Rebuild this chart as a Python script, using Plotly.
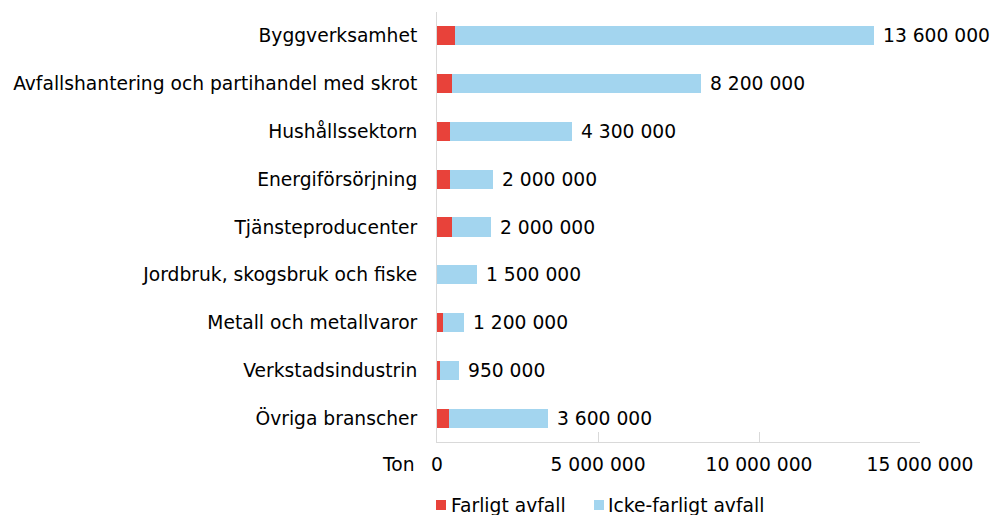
import plotly.graph_objects as go

categories = ["Byggverksamhet", "Avfallshantering och partihandel med skrot", "Hushållssektorn",
              "Energiförsörjning", "Tjänsteproducenter", "Jordbruk, skogsbruk och fiske",
              "Metall och metallvaror", "Verkstadsindustrin", "Övriga branscher"]
farligt = [550000, 460000, 390000, 390000, 480000, 0, 190000, 80000, 360000]
icke_farligt = [13020000, 7740000, 3800000, 1340000, 1200000, 1240000, 660000, 600000, 3090000]
total_labels = ["13 600 000", "8 200 000", "4 300 000", "2 000 000", "2 000 000",
                "1 500 000", "1 200 000", "950 000", "3 600 000"]
tick_vals = [0, 5000000, 10000000, 15000000]
tick_text = ["0", "5 000 000", "10 000 000", "15 000 000"]
series_names = ["Farligt avfall", "Icke-farligt avfall"]

FONT = "DejaVu Sans"
RED = "#E8423A"
BLUE = "#A3D5EF"
FS = 18.7

fig = go.Figure()
fig.add_trace(go.Bar(y=categories, x=farligt, orientation="h", name=series_names[0],
                     marker=dict(color=RED, line=dict(width=0))))
fig.add_trace(go.Bar(y=categories, x=icke_farligt, orientation="h", name=series_names[1],
                     marker=dict(color=BLUE, line=dict(width=0))))

for c, f, i, t in zip(categories, farligt, icke_farligt, total_labels):
    fig.add_annotation(x=f + i, y=c, text=t, showarrow=False, xanchor="left", xshift=7,
                       font=dict(family=FONT, size=FS, color="#000000"))

fig.add_annotation(x=0, y=0, xref="paper", yref="paper", text="Ton", showarrow=False,
                   xanchor="right", yanchor="middle", xshift=-20, yshift=-22,
                   font=dict(family=FONT, size=FS, color="#000000"))

# legend drawn manually (tight symbol/text spacing like the original)
PW, PH = 483.0, 430.0
def px(v):
    return v / PW
def py(v):
    return -v / PH
legend_items = [(series_names[0], RED, -1, 12), (series_names[1], BLUE, 157, 169)]
for name, col, sx, tx in legend_items:
    fig.add_shape(type="rect", xref="paper", yref="paper",
                  x0=px(sx), x1=px(sx + 10), y0=py(58), y1=py(68),
                  fillcolor=col, line=dict(width=0))
    fig.add_annotation(x=px(tx), y=py(63), xref="paper", yref="paper", text=name,
                       showarrow=False, xanchor="left", yanchor="middle",
                       font=dict(family=FONT, size=FS, color="#000000"))

fig.update_layout(
    width=992, height=515,
    barmode="stack", bargap=0.6,
    margin=dict(l=437, r=72, t=12, b=73),
    paper_bgcolor="white", plot_bgcolor="white",
    font=dict(family=FONT, size=FS, color="#000000"),
    showlegend=False,
    xaxis=dict(range=[0, 15000000], tickvals=tick_vals, ticktext=tick_text,
               showgrid=False, zeroline=False, showline=True, linecolor="#D9D9D9", linewidth=1,
               ticks="inside", ticklen=10, tickcolor="#D9D9D9", ticklabelstandoff=6,
               tickfont=dict(family=FONT, size=FS)),
    yaxis=dict(autorange="reversed", showgrid=False, zeroline=False, showline=True,
               linecolor="#D9D9D9", linewidth=1, ticks="", ticklabelstandoff=15,
               tickfont=dict(family=FONT, size=FS)),
)

fig.write_html("out.html", config={"displayModeBar": False},
               post_script="document.body.style.margin='0';document.body.style.overflow='hidden';")
